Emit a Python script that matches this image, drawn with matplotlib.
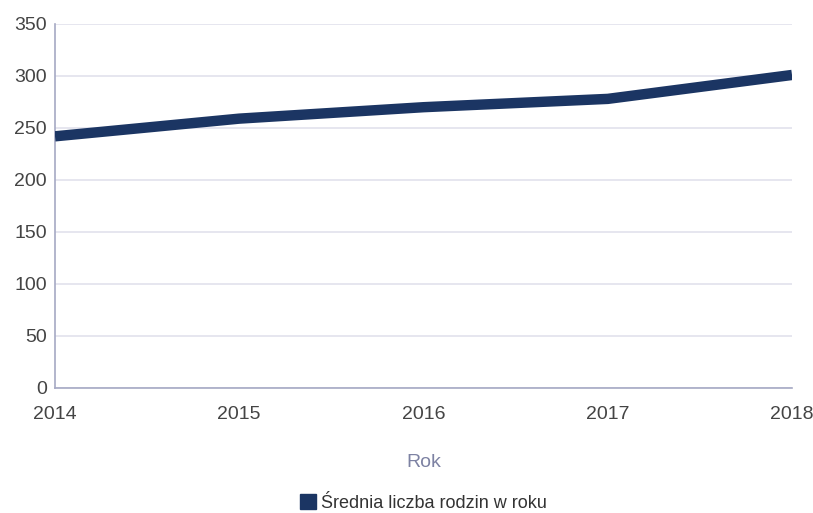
import matplotlib
matplotlib.use("Agg")
import matplotlib.pyplot as plt
from matplotlib.patches import Patch
import matplotlib.font_manager as fm

years = [2014, 2015, 2016, 2017, 2018]
values = [242, 259, 270, 278, 301]
series_name = "Średnia liczba rodzin w roku"
y_ticks = [0, 50, 100, 150, 200, 250, 300, 350]

names = {f.name for f in fm.fontManager.ttflist}
fam = ["Liberation Sans Narrow", "DejaVu Sans"] if "Liberation Sans Narrow" in names else ["Liberation Sans", "DejaVu Sans"]
plt.rcParams['font.family'] = fam

line_color = "#1b3563"
fig = plt.figure(figsize=(8.13, 5.13), dpi=100)
ax = fig.add_axes([55/813, 1-388/513, (792-55)/813, (388-24)/513])
ax.plot(years, values, color=line_color, lw=7.5, solid_capstyle='butt', zorder=3)
ax.set_xlim(2014, 2018)
ax.set_ylim(0, 350)
ax.set_xticks(years)
ax.set_yticks(y_ticks)
ax.grid(axis='y', color='#e2e2ec', lw=1.2)
ax.set_axisbelow(True)
for s in ['top', 'right']:
    ax.spines[s].set_visible(False)
for s in ['left', 'bottom']:
    ax.spines[s].set_color('#a6a9c4')
    ax.spines[s].set_linewidth(1.2)
ax.tick_params(length=0, labelsize=14, colors='#444444', pad=6)
ax.tick_params(axis='x', pad=13)
ax.set_xlabel("Rok", fontsize=14, color='#7d82a3', labelpad=22)
ax.legend(handles=[Patch(color=line_color, label=series_name)], loc='center',
          bbox_to_anchor=(0.5, (388-503)/364), frameon=False, fontsize=13,
          handlelength=0.9, handleheight=0.9, handletextpad=0.3, labelcolor='#333333',
          borderpad=0, borderaxespad=0)
fig.savefig("out.png", dpi=100)
